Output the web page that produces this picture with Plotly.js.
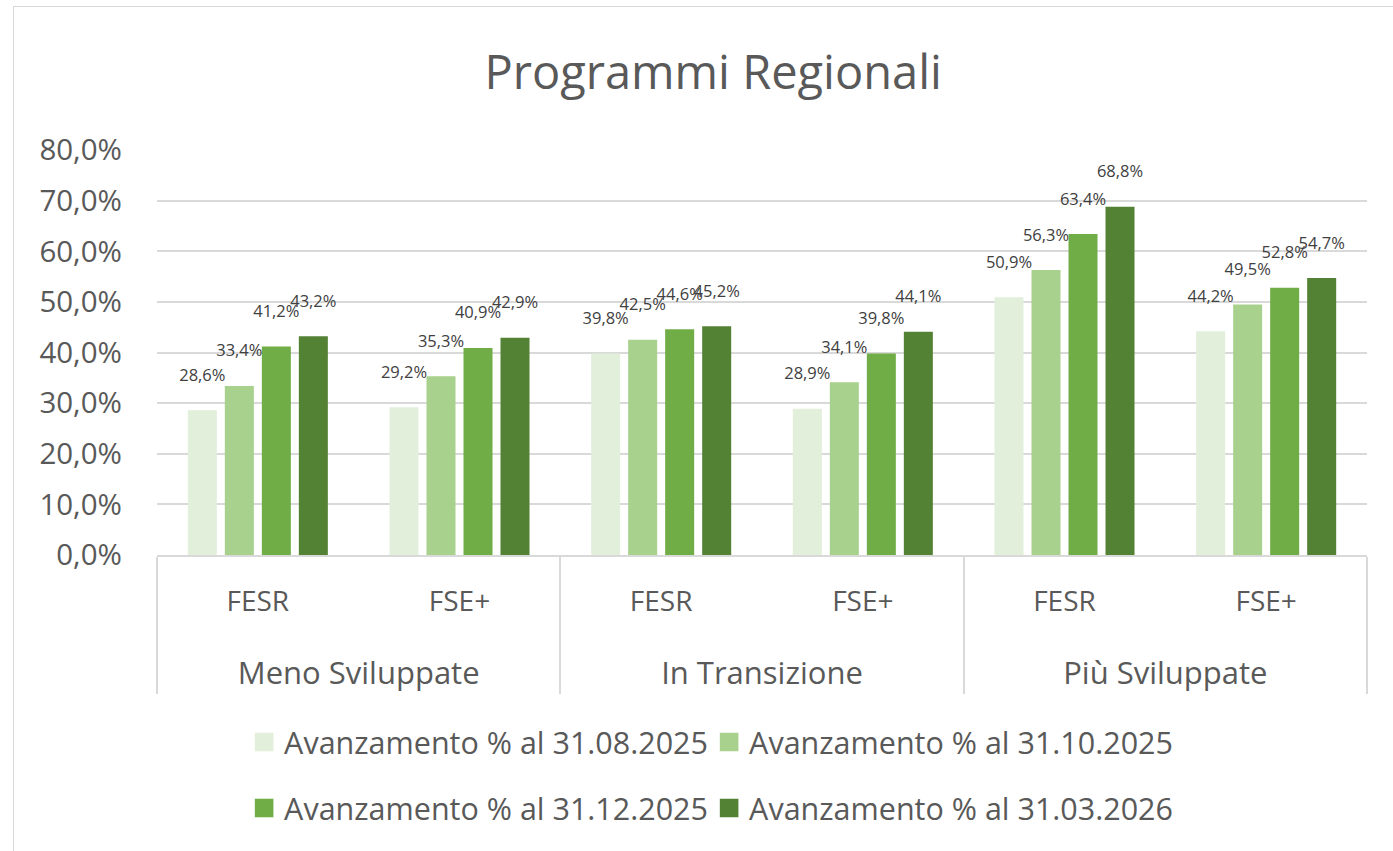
<!DOCTYPE html>
<html>
<head>
<meta charset="utf-8">
<script src="https://cdn.plot.ly/plotly-3.0.1.min.js"></script>
<style>
  html, body { margin: 0; padding: 0; background: #fff; }
  #wrap { position: relative; width: 1393px; height: 851px; overflow: hidden; }
  #frame { position: absolute; left: 13px; top: 6px; width: 1400px; height: 900px; border: 1.5px solid #D9D9D9; box-sizing: border-box; pointer-events: none; }
  #chart { position: absolute; left: 0; top: 0; width: 1393px; height: 851px; }
</style>
</head>
<body>
<div id="wrap">
  <div id="chart"></div>
  <div id="frame"></div>
</div>
<script>
const groups = ["Meno Sviluppate", "Meno Sviluppate", "In Transizione", "In Transizione", "Più Sviluppate", "Più Sviluppate"];
const funds = ["FESR", "FSE+", "FESR", "FSE+", "FESR", "FSE+"];
const seriesNames = [
  "Avanzamento % al 31.08.2025",
  "Avanzamento % al 31.10.2025",
  "Avanzamento % al 31.12.2025",
  "Avanzamento % al 31.03.2026"
];
const ago2025 = [0.286, 0.292, 0.398, 0.289, 0.509, 0.442];
const ott2025 = [0.334, 0.353, 0.425, 0.341, 0.563, 0.495];
const dic2025 = [0.412, 0.409, 0.446, 0.398, 0.634, 0.528];
const mar2026 = [0.432, 0.429, 0.452, 0.441, 0.688, 0.547];
const colors = ["#E2EFDA", "#A9D18E", "#70AD47", "#548235"];
const allSeries = [ago2025, ott2025, dic2025, mar2026];

const FONT = "Open Sans, Noto Sans, sans-serif";

const groupLabels = groups.map(g => '<span style="font-size:31px">' + g + '</span>');
const fundLabels = funds.map(f => '<span style="font-size:28px">' + f + '</span><br> ');

const traces = allSeries.map((vals, i) => ({
  type: "bar",
  name: seriesNames[i],
  legend: i < 2 ? "legend" : "legend2",
  x: [groupLabels, fundLabels],
  y: vals,
  marker: { color: colors[i] },
  texttemplate: "%{y:.1%}<br> ",
  textposition: "outside",
  constraintext: "none",
  textangle: 0,
  cliponaxis: false,
  textfont: { family: FONT, size: 16.5, color: "#404040" },
  hoverinfo: "skip"
}));

const legendBase = {
  orientation: "h",
  xanchor: "left",
  yanchor: "middle",
  font: { family: FONT, size: 30.5, color: "#595959" },
  entrywidth: 420,
  entrywidthmode: "pixels",
  traceorder: "normal",
  itemclick: false,
  bgcolor: "rgba(0,0,0,0)"
};

const layout = {
  width: 1393,
  height: 851,
  paper_bgcolor: "rgba(0,0,0,0)",
  plot_bgcolor: "rgba(0,0,0,0)",
  separators: ",.",
  margin: { l: 157, r: 26, t: 150, b: 296 },
  title: {
    text: "Programmi Regionali",
    font: { family: FONT, size: 47, color: "#595959" },
    x: 0.512, xanchor: "center",
    y: 0.915, yanchor: "middle"
  },
  barmode: "group",
  bargap: 0.266,
  bargroupgap: 0.216,
  showlegend: true,
  legend: Object.assign({}, legendBase, { x: 0.072, y: -0.462 }),
  legend2: Object.assign({}, legendBase, { x: 0.072, y: -0.625 }),
  xaxis: {
    type: "multicategory",
    showline: true,
    linecolor: "#D9D9D9",
    linewidth: 2,
    showdividers: true,
    dividercolor: "#D9D9D9",
    dividerwidth: 2,
    tickfont: { family: FONT, size: 34, color: "#595959" },
    ticks: "",
    ticklabelstandoff: 13,
    showgrid: false,
    fixedrange: true
  },
  yaxis: {
    range: [0, 0.8],
    dtick: 0.1,
    tickformat: ".1%",
    showgrid: true,
    gridcolor: "#D9D9D9",
    gridwidth: 2,
    zeroline: false,
    showline: false,
    ticks: "",
    tickfont: { family: FONT, size: 29.5, color: "#595959" },
    ticklabelstandoff: 34,
    fixedrange: true
  }
};

Plotly.newPlot("chart", traces, layout, { displayModeBar: false, staticPlot: true }).then(gd => {
  gd.querySelectorAll("g.legendpoints path").forEach(p => {
    const t = p.getAttribute("transform") || "";
    p.setAttribute("transform", t + " scale(1.55)");
  });
});
</script>
</body>
</html>
